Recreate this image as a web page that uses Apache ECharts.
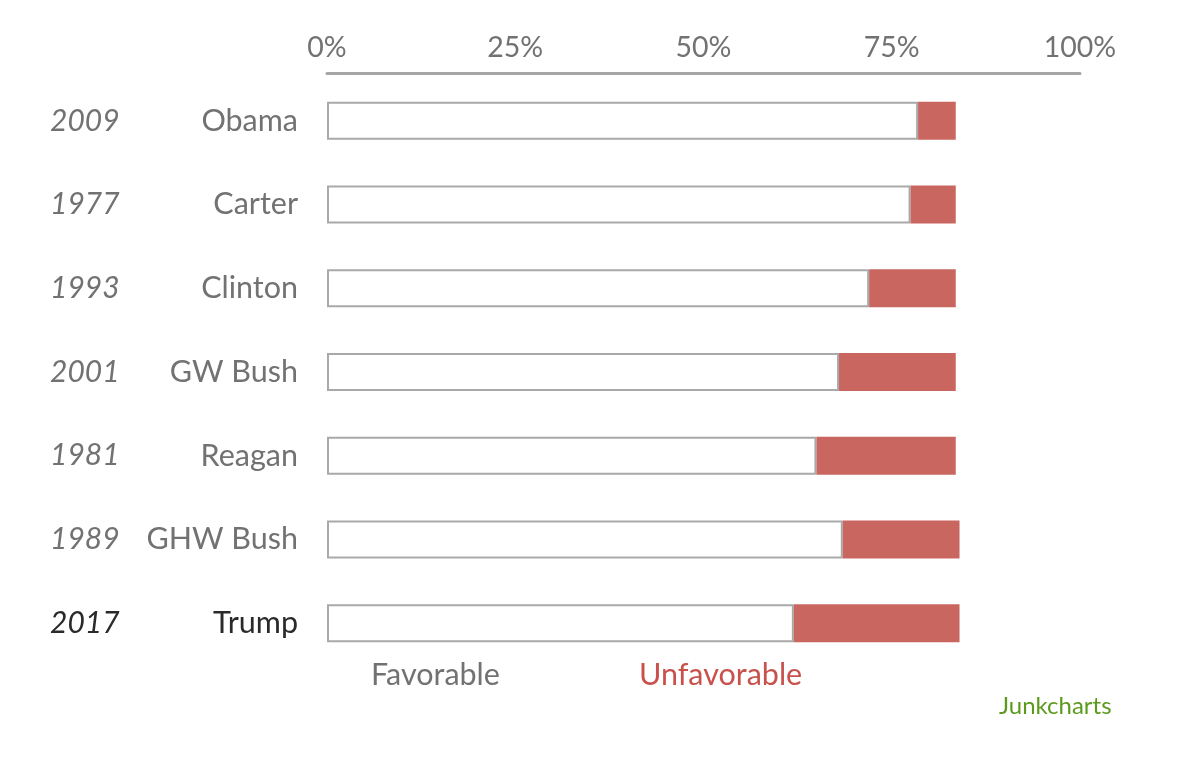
<!DOCTYPE html>
<html>
<head>
<meta charset="utf-8">
<script src="https://cdn.jsdelivr.net/npm/echarts@6/dist/echarts.min.js"></script>
<style>
  html, body { margin: 0; padding: 0; background: #fff; }
  #chart { width: 1178px; height: 768px; }
</style>
</head>
<body>
<div id="chart"></div>
<script>
// data (percent)
const years = ['2009', '1977', '1993', '2001', '1981', '1989', '2017']
const presidents = ['Obama', 'Carter', 'Clinton', 'GW Bush', 'Reagan', 'GHW Bush', 'Trump']
const favorable = [78.5, 77.5, 72, 68, 65, 68.5, 62]
const unfavorable = [5, 6, 11.5, 15.5, 18.5, 15.5, 22]
const xTicks = [0, 25, 50, 75, 100]

const FONT = 'Lato'
const GREY = '#727272'
const DARK = '#2a2a2a'
const RED = '#c8665f'

const myChart = echarts.init(document.getElementById('chart'))

// highlight the last row (the current one)
const lastIdx = presidents.length - 1
function rowLabel(value, idx) {
    return idx === lastIdx ? '{dark|' + value + '}' : '{normal|' + value + '}'
}

const option = {
    animation: false,
    backgroundColor: '#fff',
    textStyle: { fontFamily: FONT },
    grid: { left: 327, right: 98, top: 79, bottom: 103, containLabel: false },
    xAxis: {
        type: 'value',
        position: 'top',
        offset: 6,
        min: xTicks[0],
        max: xTicks[xTicks.length - 1],
        interval: 25,
        splitLine: { show: false },
        axisTick: { show: false },
        axisLine: { show: true, lineStyle: { color: '#a6a6a6', width: 3 } },
        axisLabel: {
            formatter: '{value}%',
            color: GREY,
            fontSize: 28.5,
            fontFamily: FONT,
            margin: 11
        }
    },
    yAxis: [
        {
            type: 'category',
            data: presidents,
            inverse: true,
            axisLine: { show: false },
            axisTick: { show: false },
            axisLabel: {
                margin: 29,
                formatter: rowLabel,
                rich: {
                    normal: { color: GREY, fontSize: 30.5, fontFamily: FONT },
                    dark: { color: DARK, fontSize: 30.5, fontFamily: FONT }
                }
            }
        },
        {
            type: 'category',
            data: years,
            inverse: true,
            position: 'left',
            axisLine: { show: false },
            axisTick: { show: false },
            axisLabel: {
                margin: 277,
                align: 'left',
                formatter: rowLabel,
                rich: {
                    normal: { color: GREY, fontSize: 30, fontStyle: 'italic', fontFamily: FONT },
                    dark: { color: DARK, fontSize: 30, fontStyle: 'italic', fontFamily: FONT }
                }
            }
        }
    ],
    series: [
        {
            name: 'Favorable',
            type: 'bar',
            stack: 'total',
            barWidth: 38,
            data: favorable,
            itemStyle: { color: '#fff', borderColor: '#a9a9a9', borderWidth: 2 }
        },
        {
            name: 'Unfavorable',
            type: 'bar',
            stack: 'total',
            barWidth: 38,
            data: unfavorable,
            itemStyle: { color: RED }
        }
    ],
    graphic: [
        {
            type: 'text', left: 371, top: 660,
            style: { text: 'Favorable', fill: GREY, font: '30.5px ' + FONT }
        },
        {
            type: 'text', left: 639, top: 660,
            style: { text: 'Unfavorable', fill: '#c9514b', font: '30.5px ' + FONT }
        },
        {
            type: 'text', left: 999, top: 694,
            style: { text: 'Junkcharts', fill: '#5c9a1e', font: '24px ' + FONT }
        }
    ]
}

myChart.setOption(option)
window.addEventListener('resize', () => myChart.resize())
</script>
</body>
</html>
